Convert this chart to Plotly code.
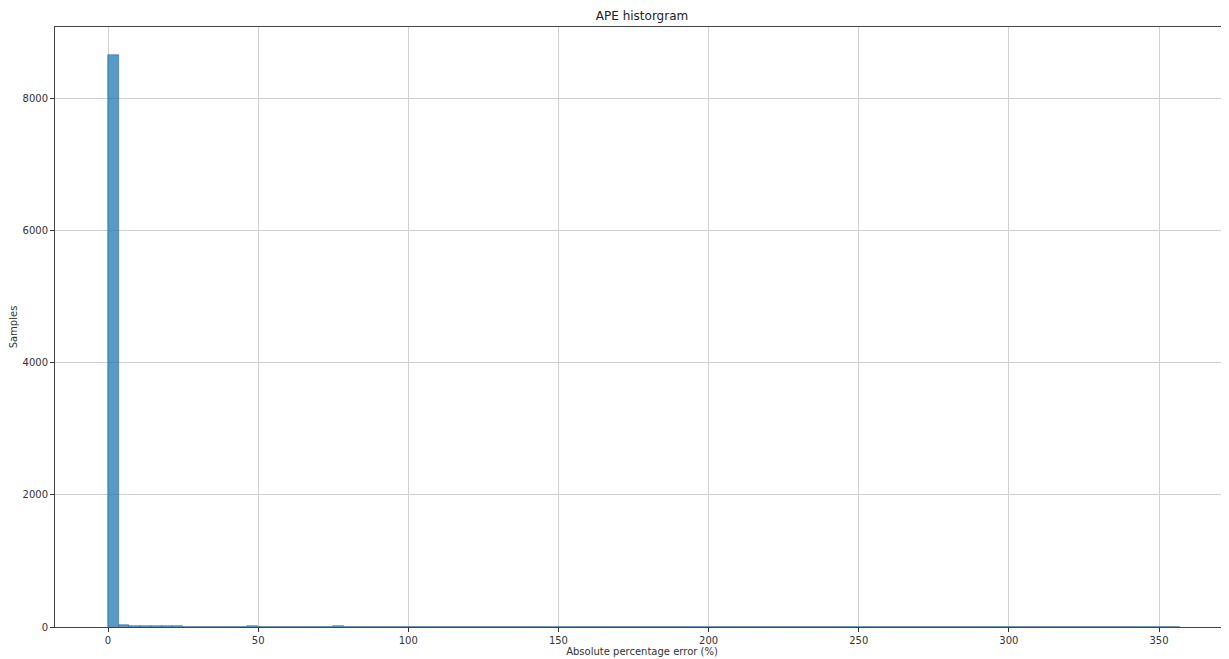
import numpy as np
import plotly.graph_objects as go

# Histogram: 100 bins from 0 to ~357
bin_start = 0.0
bin_width = 3.57
counts = [8665, 30, 15, 10, 9, 8, 8, 7, 7, 7, 7, 7, 0, 9, 0, 0, 0, 0, 0, 0,
          0, 9] + [0] * 78

centers = [bin_start + bin_width * (i + 0.5) for i in range(len(counts))]

x_ticks = [0, 50, 100, 150, 200, 250, 300, 350]
y_ticks = [0, 2000, 4000, 6000, 8000]

fig = go.Figure()
fig.add_trace(go.Bar(
    x=centers, y=counts, width=bin_width,
    marker=dict(color="rgba(31,119,180,0.75)", line=dict(color="rgba(31,90,140,0.8)", width=0.6)),
    showlegend=False,
))

font = "DejaVu Sans, sans-serif"
H = 651
fig.update_layout(
    width=1221, height=H,
    margin=dict(l=47, r=0, t=19, b=32, autoexpand=False),
    paper_bgcolor="white", plot_bgcolor="white",
    bargap=0,
    font=dict(family=font, size=10, color="#333333"),
    title=dict(text="APE historgram", x=0.5, xref="paper", y=1 - 7.5 / H, yref="container",
               yanchor="middle", font=dict(size=12, color="#222222")),
)
fig.update_xaxes(
    range=[-17.65, 373.3], tickvals=x_ticks, ticks="outside", ticklen=4, tickcolor="#333",
    showgrid=True, gridcolor="#d0d0d0", gridwidth=1, automargin=False,
    showline=True, linecolor="#444", linewidth=1, mirror=True, zeroline=False,
    title=dict(text="Absolute percentage error (%)", standoff=2, font=dict(size=10)),
)
fig.update_yaxes(
    range=[0, 9090], tickvals=y_ticks, ticks="outside", ticklen=4, tickcolor="#333",
    showgrid=True, gridcolor="#d0d0d0", gridwidth=1, automargin=False,
    showline=True, linecolor="#444", linewidth=1, mirror=True, zeroline=False,
    title=dict(text="Samples", standoff=8, font=dict(size=10)),
)

fig.write_html("out.html")
